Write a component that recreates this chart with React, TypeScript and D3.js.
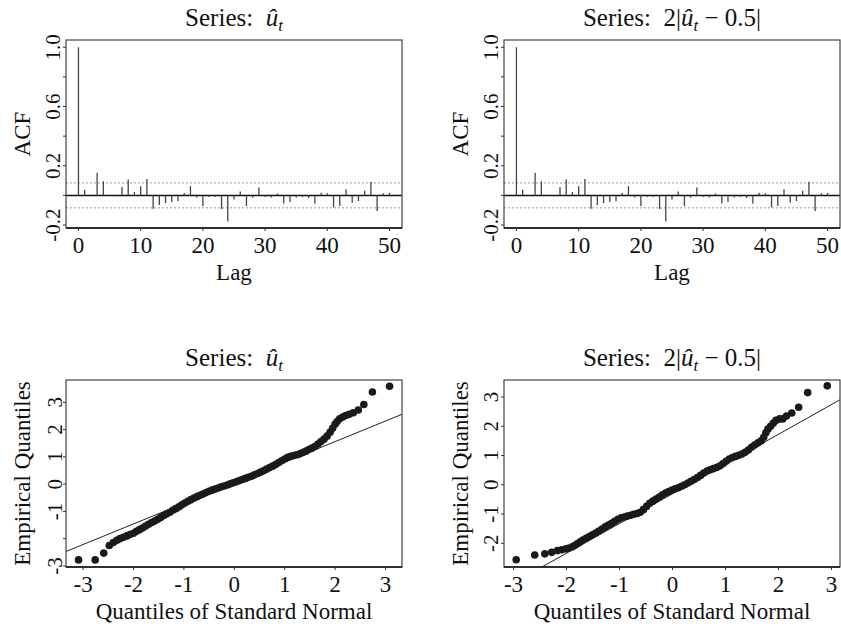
import React from "react";
import * as d3 from "d3";

// ---------- DATA ----------
const acfLags = d3.range(0, 51);
const acfU = [
  1.0, 0.038, 0.003, 0.153, 0.095, -0.004, -0.005, 0.056, 0.108, 0.023,
  0.061, 0.11, -0.09, -0.065, -0.052, -0.045, -0.04, 0.016, 0.063, -0.014,
  -0.072, -0.011, -0.01, -0.092, -0.176, -0.027, 0.027, -0.072, -0.016, 0.054,
  -0.011, -0.014, 0.013, -0.054, -0.045, -0.014, -0.011, -0.018, -0.056, 0.018,
  0.014, -0.081, -0.072, 0.041, -0.05, -0.038, 0.032, 0.092, -0.106, 0.014,
  0.016,
];
const acfAbs = [
  1.0, 0.038, 0.003, 0.153, 0.095, -0.004, -0.005, 0.056, 0.108, 0.023,
  0.061, 0.11, -0.09, -0.065, -0.052, -0.045, -0.04, 0.016, 0.063, -0.014,
  -0.072, -0.011, -0.01, -0.092, -0.176, -0.027, 0.027, -0.072, -0.016, 0.054,
  -0.011, -0.014, 0.013, -0.054, -0.045, -0.014, -0.011, -0.018, -0.056, 0.018,
  0.014, -0.081, -0.072, 0.041, -0.05, -0.038, 0.032, 0.092, -0.106, 0.014,
  0.016,
];
const acfConf = 0.084;
const acfYTicks = [-0.2, 0, 0.2, 0.4, 0.6, 0.8, 1.0];
const acfYLabels = ["-0.2", "", "0.2", "", "0.6", "", "1.0"];
const acfXTicks = [0, 10, 20, 30, 40, 50];

const qq1X = [
  -3.09, -2.76, -2.59, -2.48, -2.4, -2.33, -2.27, -2.2, -2.13, -2.07, -2.0,
  -1.94, -1.88, -1.82, -1.76, -1.7, -1.64, -1.58, -1.52, -1.46, -1.4, -1.34,
  -1.28, -1.22, -1.16, -1.1, -1.04, -0.98, -0.92, -0.86, -0.8, -0.74, -0.68,
  -0.62, -0.56, -0.5, -0.44, -0.38, -0.32, -0.26, -0.2, -0.14, -0.08, -0.02,
  0.04, 0.1, 0.16, 0.22, 0.28, 0.34, 0.4, 0.46, 0.52, 0.58, 0.64, 0.7, 0.76,
  0.82, 0.88, 0.94, 1.0, 1.06, 1.12, 1.18, 1.24, 1.3, 1.36, 1.42, 1.48, 1.54,
  1.6, 1.66, 1.72, 1.78, 1.84, 1.9, 1.95, 2.0, 2.04, 2.09, 2.15, 2.21, 2.28,
  2.36, 2.46, 2.57, 2.74, 3.08,
];
const qq1Y = [
  -2.78, -2.78, -2.53, -2.25, -2.14, -2.06, -2.0, -1.95, -1.9, -1.85, -1.8,
  -1.73, -1.67, -1.61, -1.54, -1.47, -1.41, -1.35, -1.29, -1.22, -1.15, -1.09,
  -1.03, -0.96, -0.9, -0.83, -0.76, -0.69, -0.63, -0.57, -0.51, -0.46, -0.41,
  -0.36, -0.31, -0.26, -0.22, -0.18, -0.14, -0.1, -0.07, -0.03, 0.01, 0.05,
  0.09, 0.13, 0.17, 0.21, 0.25, 0.29, 0.34, 0.39, 0.44, 0.49, 0.55, 0.61, 0.66,
  0.72, 0.79, 0.86, 0.92, 0.98, 1.02, 1.05, 1.08, 1.11, 1.16, 1.21, 1.27, 1.32,
  1.38, 1.47, 1.56, 1.65, 1.76, 1.9, 2.05, 2.2, 2.3, 2.4, 2.46, 2.52, 2.56,
  2.62, 2.72, 2.92, 3.38, 3.59,
];
const qq1Line = { intercept: 0.05, slope: 0.755 };
const qq1XTicks = [-3, -2, -1, 0, 1, 2, 3];
const qq1YTicks = [-3, -2, -1, 0, 1, 2, 3];
const qq1YLabels = ["-3", "", "-1", "0", "1", "2", "3"];

const qq2X = [
  -2.95, -2.6, -2.41, -2.28, -2.17, -2.09, -2.01, -1.95, -1.89, -1.84, -1.79,
  -1.74, -1.69, -1.63, -1.57, -1.51, -1.45, -1.39, -1.33, -1.27, -1.21, -1.15,
  -1.09, -1.03, -0.97, -0.91, -0.85, -0.79, -0.73, -0.67, -0.61, -0.55, -0.49,
  -0.43, -0.37, -0.31, -0.25, -0.19, -0.13, -0.07, -0.01, 0.05, 0.11, 0.17,
  0.23, 0.29, 0.35, 0.41, 0.47, 0.53, 0.59, 0.65, 0.71, 0.77, 0.83, 0.89, 0.95,
  1.01, 1.07, 1.13, 1.19, 1.25, 1.31, 1.37, 1.43, 1.49, 1.55, 1.61, 1.67, 1.72,
  1.76, 1.8, 1.85, 1.9, 1.95, 2.02, 2.08, 2.15, 2.25, 2.38, 2.55, 2.92,
];
const qq2Y = [
  -2.56, -2.4, -2.36, -2.31, -2.25, -2.22, -2.19, -2.16, -2.12, -2.07, -2.01,
  -1.95, -1.89, -1.83, -1.77, -1.71, -1.65, -1.58, -1.51, -1.44, -1.38, -1.32,
  -1.25, -1.18, -1.13, -1.1, -1.07, -1.04, -1.01, -0.98, -0.94, -0.85, -0.74,
  -0.63, -0.56, -0.49, -0.42, -0.34, -0.28, -0.23, -0.18, -0.14, -0.1, -0.05,
  0.0, 0.06, 0.12, 0.18, 0.25, 0.32, 0.4, 0.47, 0.51, 0.55, 0.59, 0.64, 0.72,
  0.8, 0.88, 0.93, 0.97, 1.01, 1.05, 1.11, 1.19, 1.28, 1.36, 1.43, 1.5, 1.62,
  1.78, 1.9, 2.0, 2.1, 2.2, 2.25, 2.25, 2.35, 2.45, 2.65, 3.15, 3.38,
];
const qq2Line = { intercept: -0.306, slope: 1.016 };
const qq2XTicks = [-3, -2, -1, 0, 1, 2, 3];
const qq2YTicks = [-2, -1, 0, 1, 2, 3];
const qq2YLabels = ["-2", "-1", "0", "1", "2", "3"];

// ---------- STYLE ----------
const FONT = "Liberation Serif, DejaVu Serif, Noto Serif, serif";

type Box = { x0: number; x1: number; y0: number; y1: number };

function Title({ cx, y, abs }: { cx: number; y: number; abs: boolean }) {
  return (
    <text x={cx} y={y} textAnchor="middle" fontSize={25} fontFamily={FONT} fill="#111"
      style={{ fontFamily: FONT }}>
      <tspan>{abs ? "Series:\u00A0\u00A02|" : "Series:\u00A0\u00A0"}</tspan>
      <tspan fontStyle="italic">û</tspan>
      <tspan fontStyle="italic" fontSize={17} dy={5}>t</tspan>
      {abs ? <tspan dy={-5}>{"\u00A0\u2212\u00A00.5|"}</tspan> : null}
    </text>
  );
}

function Frame({
  box, xs, ys, xTicks, yTicks, yLabels, yLabX, xLabel, yLabel, yLabelX,
}: {
  box: Box; xs: d3.ScaleLinear<number, number>; ys: d3.ScaleLinear<number, number>;
  xTicks: number[]; yTicks: number[]; yLabels: string[]; yLabX: number;
  xLabel: string; yLabel: string; yLabelX: number;
}) {
  const cx = (box.x0 + box.x1) / 2;
  const cy = (box.y0 + box.y1) / 2;
  return (
    <g fontFamily={FONT} style={{ fontFamily: FONT }} fill="#111">
      <rect x={box.x0} y={box.y0} width={box.x1 - box.x0} height={box.y1 - box.y0}
        fill="none" stroke="#444" strokeWidth={1.2} />
      <line x1={box.x0} x2={box.x1} y1={box.y1} y2={box.y1} stroke="#111" strokeWidth={1.4} />
      {xTicks.map((t) => (
        <g key={"x" + t}>
          <line x1={xs(t)} x2={xs(t)} y1={box.y1} y2={box.y1 + 3} stroke="#333" />
          <text x={xs(t)} y={box.y1 + 25} textAnchor="middle" fontSize={23}>{String(t)}</text>
        </g>
      ))}
      {yTicks.map((t, i) => (
        <g key={"y" + t}>
          <line x1={box.x0 - 3} x2={box.x0} y1={ys(t)} y2={ys(t)} stroke="#333" />
          {yLabels[i] ? (
            <text transform={`translate(${yLabX},${ys(t)}) rotate(-90)`} textAnchor="middle" fontSize={21}>
              {yLabels[i]}
            </text>
          ) : null}
        </g>
      ))}
      <text x={cx} y={box.y1 + 52} textAnchor="middle" fontSize={23}>{xLabel}</text>
      <text transform={`translate(${yLabelX},${cy}) rotate(-90)`} textAnchor="middle" fontSize={23}>
        {yLabel}
      </text>
    </g>
  );
}

function AcfPanel({ box, values, yLabX, yLabelX, abs }: {
  box: Box; values: number[]; yLabX: number; yLabelX: number; abs: boolean;
}) {
  const xs = d3.scaleLinear().domain([-2, 52]).range([box.x0, box.x1]);
  const ys = d3.scaleLinear().domain([-0.22, 1.049]).range([box.y1, box.y0]);
  return (
    <g>
      <Title cx={(box.x0 + box.x1) / 2} y={box.y0 - 14} abs={abs} />
      {[acfConf, -acfConf].map((c) => (
        <line key={c} x1={box.x0} x2={box.x1} y1={ys(c)} y2={ys(c)}
          stroke="#999" strokeWidth={1} strokeDasharray="2,2" />
      ))}
      <line x1={box.x0} x2={box.x1} y1={ys(0)} y2={ys(0)} stroke="#111" strokeWidth={1.5} />
      {acfLags.map((l, i) => (
        <line key={l} x1={xs(l)} x2={xs(l)} y1={ys(0)} y2={ys(values[i])}
          stroke="#444" strokeWidth={1.3} />
      ))}
      <Frame box={box} xs={xs} ys={ys} xTicks={acfXTicks} yTicks={acfYTicks}
        yLabels={acfYLabels} yLabX={yLabX} xLabel="Lag" yLabel="ACF" yLabelX={yLabelX} />
    </g>
  );
}

function QQPanel({ id, box, xd, yd, qx, qy, ln, xTicks, yTicks, yLabels, yLabX, yLabelX, abs }: {
  id: string; box: Box; xd: [number, number]; yd: [number, number]; qx: number[]; qy: number[];
  ln: { intercept: number; slope: number }; xTicks: number[]; yTicks: number[];
  yLabels: string[]; yLabX: number; yLabelX: number; abs: boolean;
}) {
  const xs = d3.scaleLinear().domain(xd).range([box.x0, box.x1]);
  const ys = d3.scaleLinear().domain(yd).range([box.y1, box.y0]);
  const lx0 = xd[0] - 1;
  const lx1 = xd[1] + 1;
  return (
    <g>
      <defs>
        <clipPath id={id}>
          <rect x={box.x0} y={box.y0} width={box.x1 - box.x0} height={box.y1 - box.y0} />
        </clipPath>
      </defs>
      <Title cx={(box.x0 + box.x1) / 2} y={box.y0 - 14} abs={abs} />
      <g clipPath={`url(#${id})`}>
        <line x1={xs(lx0)} y1={ys(ln.intercept + ln.slope * lx0)}
          x2={xs(lx1)} y2={ys(ln.intercept + ln.slope * lx1)} stroke="#222" strokeWidth={1} />
        {qx.map((x, i) => (
          <circle key={i} cx={xs(x)} cy={ys(qy[i])} r={3.8} fill="#1a1a1a" />
        ))}
      </g>
      <Frame box={box} xs={xs} ys={ys} xTicks={xTicks} yTicks={yTicks} yLabels={yLabels}
        yLabX={yLabX} xLabel="Quantiles of Standard Normal" yLabel="Empirical Quantiles"
        yLabelX={yLabelX} />
    </g>
  );
}

export default function App() {
  const tl: Box = { x0: 66, x1: 402, y0: 40, y1: 228 };
  const tr: Box = { x0: 504, x1: 840, y0: 40, y1: 228 };
  const bl: Box = { x0: 66, x1: 402, y0: 380, y1: 567 };
  const br: Box = { x0: 504, x1: 840, y0: 380, y1: 567 };
  return (
    <svg width={841} height={631} style={{ position: "absolute", left: 0, top: 0, background: "#fff" }}>
      <rect width={841} height={631} fill="#fff" />
      <AcfPanel box={tl} values={acfU} yLabX={60} yLabelX={30} abs={false} />
      <AcfPanel box={tr} values={acfAbs} yLabX={498} yLabelX={468} abs={true} />
      <QQPanel id="c1" box={bl} xd={[-3.339, 3.327]} yd={[-3.04, 3.82]} qx={qq1X} qy={qq1Y}
        ln={qq1Line} xTicks={qq1XTicks} yTicks={qq1YTicks} yLabels={qq1YLabels}
        yLabX={62} yLabelX={30} abs={false} />
      <QQPanel id="c2" box={br} xd={[-3.18, 3.16]} yd={[-2.81, 3.58]} qx={qq2X} qy={qq2Y}
        ln={qq2Line} xTicks={qq2XTicks} yTicks={qq2YTicks} yLabels={qq2YLabels}
        yLabX={498} yLabelX={468} abs={true} />
    </svg>
  );
}
